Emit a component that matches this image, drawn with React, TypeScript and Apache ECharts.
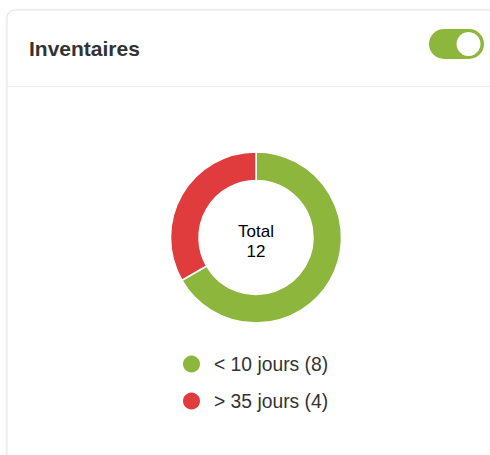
import React, { useEffect, useRef } from "react";
import * as echarts from "echarts";

const categories = ["< 10 jours", "> 35 jours"];
const values = [8, 4];
const colors = ["#8db63c", "#e03c3e"];
const title = "Inventaires";

export default function App() {
  const ref = useRef<HTMLDivElement>(null);
  useEffect(() => {
    document.body.style.margin = "0";
    const chart = echarts.init(ref.current!, null, { renderer: "svg" });
    const total = values.reduce((a, b) => a + b, 0);
    const data = categories.map((c, i) => ({ name: c, value: values[i], itemStyle: { color: colors[i] } }));
    chart.setOption({
      animation: false,
      backgroundColor: "#ffffff",
      legend: {
        orient: "vertical",
        left: 181,
        top: 353.5,
        padding: 0,
        icon: "circle",
        itemWidth: 19,
        itemHeight: 19,
        itemGap: 16,
        selectedMode: false,
        data: categories,
        formatter: (name: string) => {
          const i = categories.indexOf(name);
          return `${name} (${values[i]})`;
        },
        textStyle: {
          fontFamily: "Liberation Sans, Arial, sans-serif",
          fontSize: 19.3,
          lineHeight: 19,
          color: "#333333",
          padding: [0, 0, 0, 8],
        },
      },
      graphic: [
        {
          type: "rect",
          shape: { x: 7, y: 10, width: 500, height: 460, r: 8 },
          style: { fill: "#ffffff", stroke: "#e2e2e2", lineWidth: 1, shadowBlur: 3, shadowColor: "rgba(0,0,0,0.06)" },
          z: -10,
        },
        {
          type: "line",
          shape: { x1: 7, y1: 86.5, x2: 490, y2: 86.5 },
          style: { stroke: "#ececec", lineWidth: 1 },
        },
        {
          type: "text",
          x: 29,
          y: 48,
          style: {
            text: title,
            font: "bold 21px Liberation Sans, Arial, sans-serif",
            fill: "#333333",
            textVerticalAlign: "middle",
          },
        },
        {
          type: "rect",
          shape: { x: 429, y: 29, width: 55, height: 30, r: 15 },
          style: { fill: "#8db63c" },
        },
        {
          type: "circle",
          shape: { cx: 468.5, cy: 44, r: 12 },
          style: { fill: "#ffffff" },
        },
        {
          type: "text",
          x: 256,
          y: 241,
          style: {
            text: `Total\n${total}`,
            font: "17px Liberation Sans, Arial, sans-serif",
            lineHeight: 20,
            fill: "#000000",
            textAlign: "center",
            textVerticalAlign: "middle",
          },
          z: 10,
        },
      ],
      series: [
        {
          type: "pie",
          center: [256, 237.5],
          radius: [57, 85.5],
          startAngle: 90,
          clockwise: true,
          label: { show: false },
          labelLine: { show: false },
          emphasis: { disabled: true },
          itemStyle: { borderColor: "#ffffff", borderWidth: 1.5 },
          data,
        },
      ],
    });
    return () => chart.dispose();
  }, []);
  return <div ref={ref} style={{ width: 490, height: 455 }} />;
}
